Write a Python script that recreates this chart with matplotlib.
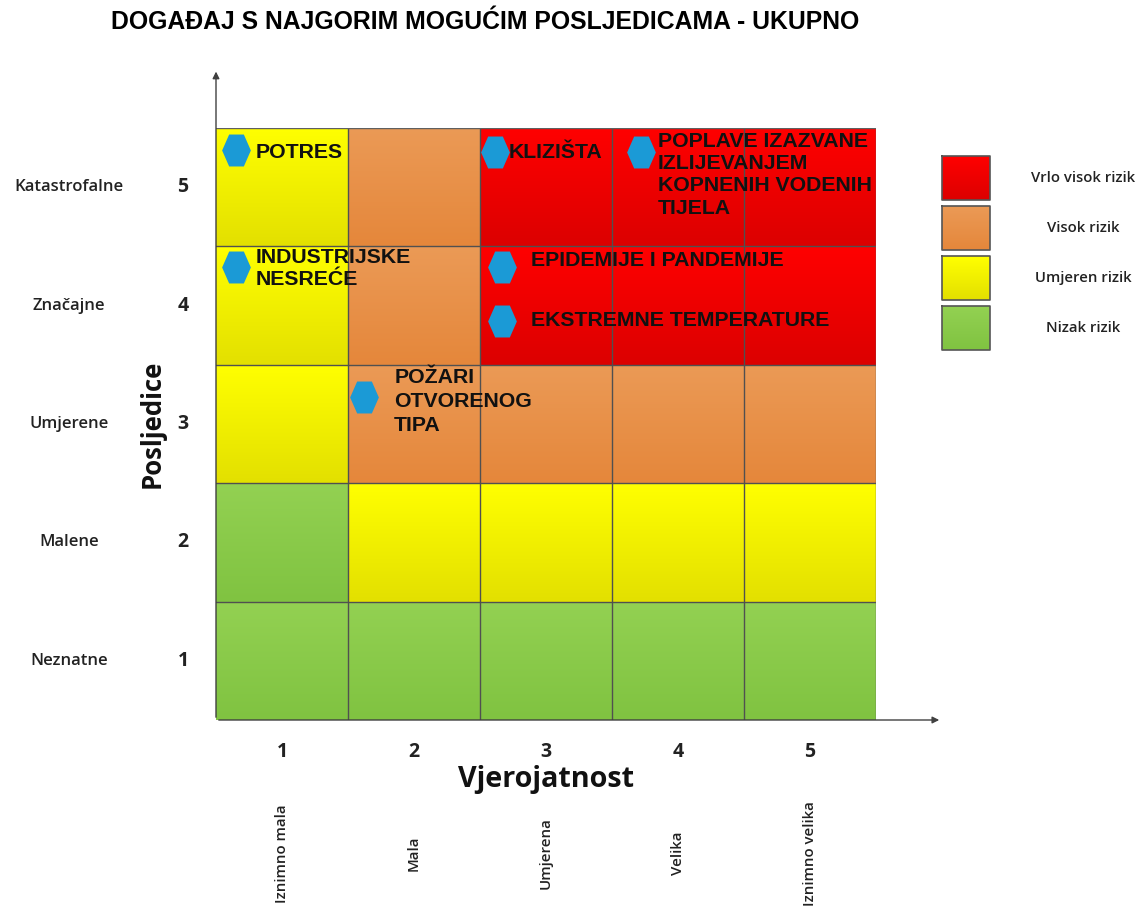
import numpy as np
import matplotlib
matplotlib.use('Agg')
import matplotlib.pyplot as plt
from matplotlib.colors import to_rgb
from matplotlib.path import Path

# risk matrix: rows = posljedice 1..5, cols = vjerojatnost 1..5
# 0 nizak, 1 umjeren, 2 visok, 3 vrlo visok
risk = [
    [0, 0, 0, 0, 0],
    [0, 1, 1, 1, 1],
    [1, 2, 2, 2, 2],
    [1, 2, 3, 3, 3],
    [1, 2, 3, 3, 3],
]

cons_names = ['Neznatne', 'Malene', 'Umjerene', 'Značajne', 'Katastrofalne']
prob_names = ['Iznimno mala', 'Mala', 'Umjerena', 'Velika', 'Iznimno velika']
levels = ['Nizak rizik', 'Umjeren rizik', 'Visok rizik', 'Vrlo visok rizik']

event_names = ['POTRES', 'KLIZIŠTA',
               'POPLAVE IZAZVANE\nIZLIJEVANJEM\nKOPNENIH VODENIH\nTIJELA',
               'INDUSTRIJSKE\nNESREĆE', 'EPIDEMIJE I PANDEMIJE',
               'EKSTREMNE TEMPERATURE', 'POŽARI\nOTVORENOG\nTIPA']
event_prob = [1, 3, 4, 1, 3, 3, 2]
event_cons = [5, 5, 5, 4, 4, 4, 3]

# where things sit inside a cell (offset from cell centre)
marker_off = [(-0.35, 0.31), (-0.39, 0.30), (-0.28, 0.30), (-0.35, 0.33),
              (-0.33, 0.33), (-0.33, -0.13), (-0.38, 0.23)]
text_off = [(-0.20, 0.29, 'center', 1.2), (-0.28, 0.29, 'center', 1.2),
            (-0.155, 0.47, 'top', 1.23), (-0.20, 0.49, 'top', 1.23),
            (-0.115, 0.385, 'center', 1.2), (-0.115, -0.13, 'center', 1.2),
            (-0.15, 0.47, 'top', 1.32)]

# top / bottom colour of the gradient for each level
grad = [('#93d152', '#80c341'), ('#ffff00', '#e3e000'),
        ('#eb9a56', '#e5873b'), ('#ff0000', '#dc0000')]

bold_font = ['Liberation Sans', 'DejaVu Sans']
calib = ['Open Sans', 'DejaVu Sans']

# flat-topped hexagon, a bit taller than wide
hexagon = Path([(-0.9, 0), (-0.46, -1), (0.46, -1), (0.9, 0), (0.46, 1), (-0.46, 1), (-0.9, 0)],
               closed=True)


def gradient(top, bottom, n=64):
    t = np.linspace(0, 1, n)[:, None, None]
    return (1 - t) * np.array(to_rgb(top)) + t * np.array(to_rgb(bottom))


fig = plt.figure(figsize=(11.39, 9.08), dpi=100)
ax = fig.add_axes([216/1139, 188/908, 660/1139, 592/908])

for r in range(5):
    for c in range(5):
        top, bot = grad[risk[r][c]]
        ax.imshow(gradient(top, bot), extent=(c + 0.5, c + 1.5, r + 0.5, r + 1.5),
                  aspect='auto', zorder=1)

ax.set_xlim(0.5, 5.5)
ax.set_ylim(0.5, 5.5)
ax.axis('off')

for k in np.arange(1.5, 5.5, 1.0):
    ax.axvline(k, color='#505050', lw=1, zorder=2)
    ax.axhline(k, color='#505050', lw=1, zorder=2)
ax.plot([5.5, 5.5], [0.5, 5.5], color='#606060', lw=1, zorder=2)
ax.plot([0.5, 5.5], [5.5, 5.5], color='#606060', lw=1, zorder=2)

# axis arrows
ax.annotate('', xy=(0.5, 6.0), xytext=(0.5, 0.5), annotation_clip=False,
            arrowprops=dict(arrowstyle='-|>', color='#404040', lw=1, mutation_scale=10))
ax.annotate('', xy=(6.0, 0.5), xytext=(0.5, 0.5), annotation_clip=False,
            arrowprops=dict(arrowstyle='-|>', color='#404040', lw=1, mutation_scale=10))

# events
for i, name in enumerate(event_names):
    cx, cy = event_prob[i], event_cons[i]
    mx, my = marker_off[i]
    ax.plot(cx + mx, cy + my, marker=hexagon, markersize=23, color='#1b9ad6',
            markeredgewidth=0, zorder=4, clip_on=False)
    tx, ty, va, ls = text_off[i]
    ax.text(cx + tx, cy + ty, name, ha='left', va=va, fontsize=15.3,
            fontweight='bold', family=bold_font, color='#111111', zorder=5,
            linespacing=ls)

# y side labels
ytr = ax.get_yaxis_transform()
for i, nm in enumerate(cons_names):
    ax.text(-0.223, i + 1, nm, transform=ytr, ha='center', va='center',
            fontsize=12, family=calib, fontweight='semibold', color='#222222')
    ax.text(-0.05, i + 1, str(i + 1), transform=ytr, ha='center', va='center',
            fontsize=14, family=calib, fontweight='bold', color='#222222')
ax.text(-0.097, 3, 'Posljedice', transform=ytr, rotation=90, ha='center', va='center',
        fontsize=18.5, family=calib, fontweight='bold', color='#111111')

# x side labels
xtr = ax.get_xaxis_transform()
for i, nm in enumerate(prob_names):
    ax.text(i + 1, -0.054, str(i + 1), transform=xtr, ha='center', va='center',
            fontsize=14, family=calib, fontweight='bold', color='#222222')
    ax.text(i + 1, -0.225, nm, transform=xtr, rotation=90, ha='center', va='center',
            fontsize=10.8, family=calib, fontweight='semibold', color='#222222')
ax.text(3, -0.1, 'Vjerojatnost', transform=xtr, ha='center', va='center',
        fontsize=20.7, family=calib, fontweight='bold', color='#111111')

# title
fig.text(485/1139, 1 - 22/908, 'DOGAĐAJ S NAJGORIM MOGUĆIM POSLJEDICAMA - UKUPNO',
         ha='center', va='center', fontsize=17.8, fontweight='bold', family=bold_font)

# legend
lax = fig.add_axes([930/1139, 1 - 360/908, 209/1139, 215/908])
for j, lev in enumerate(levels[::-1]):
    k = 3 - j
    y0 = 156 + j * 50
    lax.imshow(gradient(*grad[k]), extent=(942, 990, y0 + 44, y0), aspect='auto', zorder=1)
    lax.plot([942, 990, 990, 942, 942], [y0, y0, y0 + 44, y0 + 44, y0],
             color='#555555', lw=1.2, zorder=2)
    lax.text(1083, y0 + 22, lev, ha='center', va='center', fontsize=10.7,
             family=calib, fontweight='semibold', color='#222222')
lax.set_xlim(930, 1139)
lax.set_ylim(360, 145)
lax.axis('off')

fig.savefig('out.png', dpi=100)
